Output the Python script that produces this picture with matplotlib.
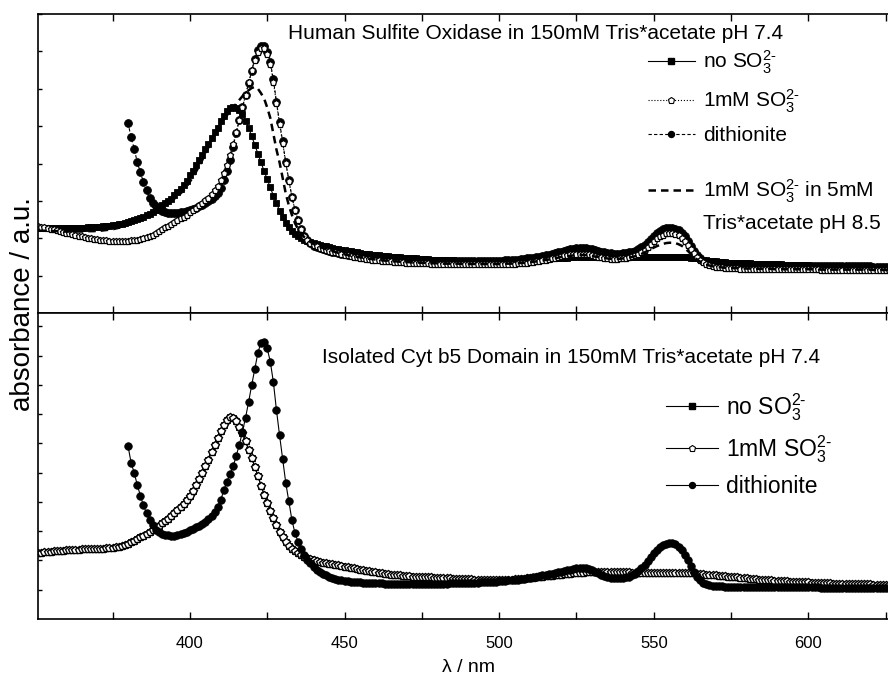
import matplotlib
matplotlib.use("Agg")
import matplotlib.pyplot as plt
from matplotlib.lines import Line2D
import numpy as np

plt.rcParams["font.family"] = ["Liberation Sans", "DejaVu Sans"]
plt.rcParams["mathtext.fontset"] = "custom"
plt.rcParams["mathtext.rm"] = "Liberation Sans"
plt.rcParams["mathtext.it"] = "Liberation Sans:italic"
plt.rcParams["mathtext.bf"] = "Liberation Sans:bold"

# wavelength grids in nm (spectra sampled every 1 nm)
WL = np.arange(351, 629)
WL_DITH = np.arange(380, 629)

# --- Human sulfite oxidase (top panel), absorbance in arbitrary units ---
TOP_NO_SO3 = [
    2.27, 2.27, 2.27, 2.27, 2.27, 2.27, 2.27, 2.27, 2.27, 2.27,
    2.27, 2.27, 2.27, 2.28, 2.28, 2.28, 2.29, 2.29, 2.30, 2.30,
    2.31, 2.32, 2.33, 2.34, 2.35, 2.36, 2.37, 2.39, 2.41, 2.43,
    2.46, 2.49, 2.52, 2.55, 2.58, 2.62, 2.66, 2.71, 2.76, 2.82,
    2.88, 2.94, 3.00, 3.06, 3.15, 3.23, 3.32, 3.42, 3.54, 3.68,
    3.81, 3.96, 4.10, 4.24, 4.38, 4.51, 4.68, 4.84, 4.96, 5.14,
    5.28, 5.40, 5.48, 5.51, 5.49, 5.43, 5.32, 5.15, 4.95, 4.73,
    4.50, 4.26, 4.03, 3.80, 3.58, 3.36, 3.14, 2.94, 2.74, 2.57,
    2.42, 2.30, 2.20, 2.12, 2.06, 2.01, 1.96, 1.92, 1.89, 1.86,
    1.84, 1.82, 1.80, 1.78, 1.76, 1.74, 1.72, 1.71, 1.69, 1.68,
    1.66, 1.65, 1.63, 1.62, 1.61, 1.59, 1.58, 1.57, 1.56, 1.55,
    1.54, 1.53, 1.52, 1.52, 1.51, 1.50, 1.49, 1.49, 1.48, 1.47,
    1.47, 1.46, 1.46, 1.45, 1.45, 1.44, 1.44, 1.43, 1.43, 1.42,
    1.42, 1.42, 1.41, 1.41, 1.41, 1.40, 1.40, 1.40, 1.40, 1.39,
    1.39, 1.39, 1.39, 1.39, 1.38, 1.38, 1.38, 1.38, 1.38, 1.38,
    1.38, 1.38, 1.39, 1.39, 1.39, 1.40, 1.40, 1.41, 1.41, 1.42,
    1.42, 1.43, 1.43, 1.44, 1.45, 1.45, 1.46, 1.46, 1.47, 1.47,
    1.48, 1.48, 1.49, 1.49, 1.50, 1.50, 1.50, 1.50, 1.50, 1.50,
    1.50, 1.50, 1.49, 1.49, 1.49, 1.49, 1.49, 1.49, 1.49, 1.49,
    1.49, 1.49, 1.50, 1.50, 1.50, 1.50, 1.50, 1.50, 1.50, 1.50,
    1.50, 1.51, 1.51, 1.51, 1.51, 1.51, 1.51, 1.50, 1.50, 1.50,
    1.49, 1.48, 1.47, 1.46, 1.44, 1.43, 1.41, 1.40, 1.39, 1.38,
    1.37, 1.36, 1.36, 1.35, 1.35, 1.34, 1.34, 1.34, 1.33, 1.33,
    1.33, 1.32, 1.32, 1.32, 1.31, 1.31, 1.31, 1.30, 1.30, 1.30,
    1.30, 1.29, 1.29, 1.29, 1.29, 1.28, 1.28, 1.28, 1.28, 1.28,
    1.27, 1.27, 1.27, 1.27, 1.27, 1.26, 1.26, 1.26, 1.26, 1.26,
    1.26, 1.25, 1.25, 1.25, 1.25, 1.25, 1.25, 1.24, 1.24, 1.24,
    1.24, 1.24, 1.24, 1.23, 1.23, 1.23, 1.23, 1.23,
]

TOP_SO3_1MM = [
    2.32, 2.31, 2.30, 2.28, 2.26, 2.24, 2.22, 2.20, 2.17, 2.15,
    2.13, 2.11, 2.09, 2.07, 2.05, 2.03, 2.01, 2.00, 1.98, 1.97,
    1.96, 1.95, 1.94, 1.93, 1.92, 1.92, 1.92, 1.92, 1.92, 1.93,
    1.94, 1.95, 1.96, 1.98, 2.00, 2.03, 2.06, 2.10, 2.14, 2.19,
    2.24, 2.29, 2.34, 2.39, 2.43, 2.48, 2.53, 2.58, 2.63, 2.69,
    2.75, 2.81, 2.88, 2.95, 3.02, 3.09, 3.18, 3.28, 3.40, 3.56,
    3.75, 3.97, 4.23, 4.52, 4.84, 5.17, 5.50, 5.83, 6.17, 6.49,
    6.78, 6.99, 7.09, 7.08, 6.94, 6.67, 6.19, 5.61, 5.06, 4.55,
    4.01, 3.54, 3.10, 2.75, 2.48, 2.25, 2.07, 1.96, 1.88, 1.82,
    1.78, 1.75, 1.72, 1.69, 1.66, 1.64, 1.62, 1.60, 1.58, 1.56,
    1.54, 1.52, 1.51, 1.49, 1.48, 1.47, 1.45, 1.44, 1.43, 1.42,
    1.41, 1.40, 1.39, 1.39, 1.38, 1.37, 1.37, 1.36, 1.36, 1.35,
    1.35, 1.34, 1.34, 1.34, 1.33, 1.33, 1.33, 1.32, 1.32, 1.32,
    1.32, 1.31, 1.31, 1.31, 1.31, 1.31, 1.31, 1.30, 1.30, 1.30,
    1.30, 1.30, 1.30, 1.30, 1.30, 1.30, 1.31, 1.31, 1.31, 1.31,
    1.31, 1.31, 1.32, 1.32, 1.32, 1.33, 1.33, 1.34, 1.35, 1.36,
    1.37, 1.38, 1.40, 1.41, 1.43, 1.44, 1.46, 1.48, 1.50, 1.52,
    1.54, 1.56, 1.57, 1.58, 1.59, 1.59, 1.59, 1.58, 1.57, 1.55,
    1.53, 1.51, 1.49, 1.47, 1.46, 1.45, 1.45, 1.45, 1.46, 1.47,
    1.48, 1.50, 1.52, 1.55, 1.59, 1.63, 1.69, 1.76, 1.84, 1.92,
    2.00, 2.06, 2.10, 2.13, 2.14, 2.14, 2.12, 2.08, 2.01, 1.92,
    1.82, 1.71, 1.60, 1.50, 1.42, 1.36, 1.31, 1.28, 1.26, 1.24,
    1.23, 1.22, 1.21, 1.21, 1.20, 1.20, 1.20, 1.19, 1.19, 1.19,
    1.19, 1.19, 1.18, 1.18, 1.18, 1.18, 1.18, 1.18, 1.17, 1.17,
    1.17, 1.17, 1.17, 1.17, 1.17, 1.17, 1.17, 1.17, 1.17, 1.17,
    1.17, 1.17, 1.17, 1.16, 1.16, 1.16, 1.16, 1.16, 1.16, 1.16,
    1.16, 1.16, 1.16, 1.16, 1.16, 1.16, 1.16, 1.16, 1.16, 1.16,
    1.15, 1.15, 1.15, 1.15, 1.15, 1.15, 1.15, 1.15,
]

TOP_DITHIONITE = [
    5.09,
    4.70, 4.40, 4.03, 3.76, 3.50, 3.28, 3.08, 2.95, 2.85, 2.78,
    2.73, 2.70, 2.68, 2.67, 2.67, 2.68, 2.69, 2.71, 2.73, 2.76,
    2.79, 2.82, 2.86, 2.90, 2.95, 2.99, 3.05, 3.13, 3.22, 3.35,
    3.55, 3.80, 4.10, 4.45, 4.82, 5.17, 5.50, 5.82, 6.15, 6.48,
    6.80, 7.03, 7.14, 7.15, 6.98, 6.72, 6.25, 5.65, 5.10, 4.59,
    4.03, 3.56, 3.11, 2.75, 2.49, 2.25, 2.06, 1.94, 1.86, 1.80,
    1.76, 1.73, 1.70, 1.68, 1.66, 1.64, 1.62, 1.60, 1.59, 1.57,
    1.56, 1.55, 1.53, 1.52, 1.51, 1.50, 1.49, 1.48, 1.47, 1.47,
    1.46, 1.45, 1.45, 1.44, 1.44, 1.43, 1.43, 1.43, 1.42, 1.42,
    1.42, 1.41, 1.41, 1.41, 1.41, 1.40, 1.40, 1.40, 1.40, 1.40,
    1.40, 1.39, 1.39, 1.39, 1.39, 1.39, 1.39, 1.39, 1.39, 1.39,
    1.39, 1.39, 1.39, 1.39, 1.39, 1.39, 1.39, 1.40, 1.40, 1.40,
    1.40, 1.41, 1.41, 1.42, 1.42, 1.43, 1.44, 1.45, 1.46, 1.47,
    1.48, 1.49, 1.51, 1.52, 1.54, 1.56, 1.58, 1.60, 1.62, 1.64,
    1.66, 1.68, 1.70, 1.72, 1.73, 1.74, 1.74, 1.73, 1.72, 1.70,
    1.68, 1.66, 1.64, 1.62, 1.61, 1.60, 1.59, 1.59, 1.59, 1.60,
    1.61, 1.62, 1.64, 1.67, 1.71, 1.76, 1.83, 1.91, 1.99, 2.07,
    2.14, 2.20, 2.24, 2.27, 2.28, 2.28, 2.26, 2.22, 2.15, 2.05,
    1.93, 1.80, 1.67, 1.56, 1.47, 1.40, 1.36, 1.33, 1.31, 1.30,
    1.30, 1.29, 1.29, 1.29, 1.28, 1.28, 1.28, 1.28, 1.28, 1.28,
    1.27, 1.27, 1.27, 1.27, 1.27, 1.27, 1.27, 1.27, 1.26, 1.26,
    1.26, 1.26, 1.26, 1.26, 1.26, 1.26, 1.26, 1.26, 1.26, 1.26,
    1.26, 1.26, 1.25, 1.25, 1.25, 1.25, 1.25, 1.25, 1.25, 1.25,
    1.25, 1.25, 1.25, 1.25, 1.25, 1.25, 1.25, 1.25, 1.25, 1.25,
    1.24, 1.24, 1.24, 1.24, 1.24, 1.24, 1.24, 1.24,
]

# 1mM sulfite in 5mM Tris*acetate pH 8.5 (no markers, thick dashes)
TOP_PH85 = [
    2.20, 2.20, 2.20, 2.19, 2.19, 2.19, 2.19, 2.18, 2.18, 2.18,
    2.18, 2.18, 2.18, 2.18, 2.18, 2.18, 2.19, 2.19, 2.19, 2.20,
    2.20, 2.21, 2.22, 2.23, 2.24, 2.26, 2.28, 2.30, 2.33, 2.36,
    2.40, 2.44, 2.48, 2.52, 2.56, 2.60, 2.64, 2.68, 2.73, 2.78,
    2.83, 2.88, 2.94, 3.00, 3.06, 3.13, 3.20, 3.28, 3.39, 3.51,
    3.64, 3.78, 3.93, 4.09, 4.26, 4.43, 4.60, 4.76, 4.91, 5.05,
    5.18, 5.29, 5.40, 5.50, 5.60, 5.70, 5.80, 5.89, 5.96, 6.02,
    6.05, 6.00, 5.88, 5.74, 5.50, 5.22, 4.80, 4.37, 4.03, 3.62,
    3.20, 2.88, 2.62, 2.40, 2.24, 2.12, 2.03, 1.96, 1.90, 1.85,
    1.80, 1.77, 1.74, 1.71, 1.68, 1.66, 1.63, 1.61, 1.59, 1.57,
    1.55, 1.53, 1.52, 1.50, 1.49, 1.48, 1.46, 1.45, 1.44, 1.43,
    1.42, 1.41, 1.40, 1.40, 1.39, 1.38, 1.38, 1.37, 1.37, 1.36,
    1.36, 1.35, 1.35, 1.35, 1.34, 1.34, 1.34, 1.33, 1.33, 1.33,
    1.33, 1.32, 1.32, 1.32, 1.32, 1.32, 1.32, 1.31, 1.31, 1.31,
    1.31, 1.31, 1.31, 1.31, 1.31, 1.31, 1.31, 1.31, 1.31, 1.31,
    1.31, 1.32, 1.32, 1.32, 1.33, 1.33, 1.34, 1.34, 1.35, 1.36,
    1.37, 1.38, 1.39, 1.40, 1.42, 1.43, 1.45, 1.46, 1.48, 1.50,
    1.51, 1.52, 1.53, 1.54, 1.55, 1.55, 1.55, 1.55, 1.54, 1.53,
    1.51, 1.50, 1.48, 1.47, 1.46, 1.45, 1.45, 1.45, 1.45, 1.46,
    1.47, 1.48, 1.50, 1.52, 1.55, 1.58, 1.62, 1.66, 1.71, 1.75,
    1.79, 1.82, 1.85, 1.87, 1.88, 1.88, 1.87, 1.84, 1.80, 1.74,
    1.66, 1.58, 1.50, 1.43, 1.37, 1.33, 1.29, 1.27, 1.25, 1.24,
    1.23, 1.22, 1.21, 1.21, 1.20, 1.20, 1.20, 1.19, 1.19, 1.19,
    1.19, 1.19, 1.18, 1.18, 1.18, 1.18, 1.18, 1.18, 1.17, 1.17,
    1.17, 1.17, 1.17, 1.17, 1.17, 1.17, 1.17, 1.17, 1.17, 1.17,
    1.17, 1.17, 1.17, 1.16, 1.16, 1.16, 1.16, 1.16, 1.16, 1.16,
    1.16, 1.16, 1.16, 1.16, 1.16, 1.16, 1.16, 1.16, 1.16, 1.16,
    1.15, 1.15, 1.15, 1.15, 1.15, 1.15, 1.15, 1.15,
]

# --- isolated cyt b5 domain (bottom panel) ---
BOT_SO3_1MM = [
    2.26, 2.27, 2.28, 2.29, 2.30, 2.31, 2.32, 2.33, 2.34, 2.35,
    2.36, 2.36, 2.37, 2.37, 2.38, 2.38, 2.38, 2.39, 2.39, 2.39,
    2.40, 2.40, 2.41, 2.42, 2.43, 2.45, 2.47, 2.50, 2.54, 2.58,
    2.63, 2.68, 2.73, 2.79, 2.85, 2.91, 2.98, 3.05, 3.12, 3.19,
    3.27, 3.35, 3.43, 3.52, 3.61, 3.71, 3.82, 3.94, 4.07, 4.21,
    4.38, 4.57, 4.78, 5.00, 5.22, 5.45, 5.70, 5.95, 6.20, 6.43,
    6.63, 6.80, 6.90, 6.88, 6.76, 6.55, 6.35, 6.08, 5.78, 5.50,
    5.20, 4.88, 4.55, 4.25, 3.97, 3.70, 3.45, 3.20, 2.98, 2.80,
    2.64, 2.50, 2.40, 2.31, 2.24, 2.18, 2.12, 2.08, 2.04, 2.01,
    1.98, 1.95, 1.93, 1.91, 1.89, 1.87, 1.85, 1.83, 1.81, 1.79,
    1.77, 1.75, 1.73, 1.71, 1.69, 1.67, 1.65, 1.63, 1.61, 1.59,
    1.58, 1.56, 1.55, 1.53, 1.52, 1.51, 1.50, 1.49, 1.48, 1.47,
    1.46, 1.45, 1.45, 1.44, 1.43, 1.43, 1.42, 1.42, 1.41, 1.41,
    1.40, 1.40, 1.39, 1.39, 1.38, 1.38, 1.37, 1.37, 1.36, 1.36,
    1.36, 1.35, 1.35, 1.35, 1.34, 1.34, 1.34, 1.34, 1.34, 1.34,
    1.34, 1.34, 1.35, 1.35, 1.36, 1.36, 1.37, 1.38, 1.39, 1.40,
    1.41, 1.42, 1.43, 1.44, 1.46, 1.47, 1.48, 1.50, 1.51, 1.52,
    1.53, 1.54, 1.55, 1.56, 1.57, 1.58, 1.58, 1.59, 1.59, 1.59,
    1.59, 1.59, 1.59, 1.59, 1.59, 1.59, 1.59, 1.59, 1.59, 1.59,
    1.59, 1.59, 1.58, 1.58, 1.58, 1.58, 1.58, 1.58, 1.58, 1.58,
    1.58, 1.58, 1.58, 1.58, 1.58, 1.58, 1.58, 1.58, 1.57, 1.57,
    1.57, 1.56, 1.56, 1.55, 1.54, 1.53, 1.52, 1.51, 1.50, 1.49,
    1.48, 1.47, 1.46, 1.45, 1.44, 1.43, 1.42, 1.41, 1.40, 1.39,
    1.38, 1.37, 1.36, 1.35, 1.35, 1.34, 1.33, 1.32, 1.31, 1.31,
    1.30, 1.29, 1.29, 1.28, 1.27, 1.27, 1.26, 1.26, 1.25, 1.25,
    1.24, 1.24, 1.23, 1.23, 1.22, 1.22, 1.22, 1.21, 1.21, 1.21,
    1.20, 1.20, 1.20, 1.19, 1.19, 1.19, 1.18, 1.18, 1.18, 1.18,
    1.17, 1.17, 1.17, 1.16, 1.16, 1.16, 1.16, 1.16,
]

# the "no sulfite" spectrum of the isolated domain lies under the 1mM one
BOT_NO_SO3 = BOT_SO3_1MM

BOT_DITHIONITE = [
    5.92,
    5.34, 5.00, 4.58, 4.22, 3.88, 3.62, 3.38, 3.20, 3.04, 2.96,
    2.91, 2.88, 2.86, 2.84, 2.85, 2.87, 2.90, 2.94, 2.99, 3.04,
    3.08, 3.13, 3.19, 3.25, 3.33, 3.42, 3.53, 3.66, 3.84, 4.08,
    4.40, 4.70, 4.95, 5.22, 5.58, 5.96, 6.40, 6.88, 7.42, 8.00,
    8.55, 9.10, 9.45, 9.48, 9.25, 8.80, 8.10, 7.14, 6.28, 5.46,
    4.66, 4.03, 3.38, 2.93, 2.64, 2.39, 2.20, 2.03, 1.90, 1.78,
    1.68, 1.60, 1.54, 1.49, 1.45, 1.41, 1.38, 1.35, 1.33, 1.31,
    1.29, 1.28, 1.27, 1.26, 1.25, 1.24, 1.24, 1.23, 1.23, 1.22,
    1.22, 1.22, 1.21, 1.21, 1.21, 1.21, 1.21, 1.21, 1.21, 1.21,
    1.21, 1.21, 1.21, 1.21, 1.21, 1.21, 1.21, 1.21, 1.21, 1.21,
    1.21, 1.21, 1.21, 1.22, 1.22, 1.22, 1.22, 1.22, 1.23, 1.23,
    1.23, 1.24, 1.24, 1.25, 1.25, 1.26, 1.27, 1.27, 1.28, 1.29,
    1.30, 1.31, 1.32, 1.33, 1.34, 1.35, 1.37, 1.38, 1.40, 1.41,
    1.43, 1.45, 1.47, 1.49, 1.51, 1.53, 1.55, 1.58, 1.60, 1.62,
    1.64, 1.67, 1.69, 1.71, 1.73, 1.74, 1.74, 1.73, 1.70, 1.66,
    1.61, 1.56, 1.51, 1.47, 1.44, 1.41, 1.40, 1.39, 1.39, 1.40,
    1.42, 1.45, 1.49, 1.55, 1.63, 1.73, 1.85, 1.98, 2.12, 2.25,
    2.37, 2.47, 2.54, 2.58, 2.60, 2.59, 2.55, 2.47, 2.35, 2.19,
    2.00, 1.80, 1.60, 1.44, 1.32, 1.24, 1.19, 1.16, 1.14, 1.13,
    1.12, 1.12, 1.11, 1.11, 1.11, 1.10, 1.10, 1.10, 1.10, 1.10,
    1.10, 1.10, 1.09, 1.09, 1.09, 1.09, 1.09, 1.09, 1.09, 1.09,
    1.08, 1.08, 1.08, 1.08, 1.08, 1.08, 1.08, 1.08, 1.08, 1.08,
    1.08, 1.08, 1.08, 1.07, 1.07, 1.07, 1.07, 1.07, 1.07, 1.07,
    1.07, 1.07, 1.07, 1.06, 1.06, 1.06, 1.06, 1.06, 1.06, 1.06,
    1.06, 1.06, 1.05, 1.05, 1.05, 1.05, 1.05, 1.05,
]

X_MAJOR = [400, 450, 500, 550, 600]
X_MINOR = [375, 425, 475, 525, 575, 625]
XLIM = (351, 629)
TOP_YLIM = (0, 8)
BOT_YLIM = (0, 10.46)

TOP_TITLE = "Human Sulfite Oxidase in 150mM Tris*acetate pH 7.4"
BOT_TITLE = "Isolated Cyt b5 Domain in 150mM Tris*acetate pH 7.4"
# hyphen instead of the mathtext minus, as in the original labels
SO3 = "SO$_{3}^{2\u2010}$"
LABELS = ["no " + SO3, "1mM " + SO3, "dithionite"]


def style_axes(ax, ylim, show_xlabels):
    ax.set_xlim(*XLIM)
    ax.set_ylim(*ylim)
    ax.set_xticks(X_MAJOR)
    ax.set_xticks(X_MINOR, minor=True)
    ax.set_yticks(np.arange(1, int(ylim[1]) + 1))
    ax.tick_params(axis="x", which="both", direction="in", top=True, bottom=True,
                   length=5, width=1, labelsize=12, pad=12, labelbottom=show_xlabels)
    ax.tick_params(axis="y", which="both", direction="in", left=True, right=False,
                   length=3, width=1, labelleft=False)
    for sp in ax.spines.values():
        sp.set_linewidth(1.2)


fig = plt.figure(figsize=(8.88, 6.84), dpi=100)
left = 38.3 / 888
width = (XLIM[1] - XLIM[0]) * 3.093 / 888
ax_top = fig.add_axes([left, (684 - 313) / 684, width, 299 / 684])
ax_bot = fig.add_axes([left, (684 - 619) / 684, width, 306 / 684])

style_axes(ax_top, TOP_YLIM, False)
style_axes(ax_bot, BOT_YLIM, True)

# top panel: dithionite circles are a bit bigger than the open pentagons drawn over them
ax_top.plot(WL, TOP_NO_SO3, color="black", lw=0.8, ls="-",
            marker="s", ms=4.3, mfc="black", mec="black", mew=0.6)
ax_top.plot(WL_DITH, TOP_DITHIONITE, color="black", lw=0.8, ls=(0, (3, 2)),
            marker="o", ms=5.6, mfc="black", mec="black", mew=0.6)
ax_top.plot(WL, TOP_SO3_1MM, color="black", lw=0.8, ls=":",
            marker="p", ms=4.7, mfc="white", mec="black", mew=0.9)
ax_top.plot(WL, TOP_PH85, color="black", lw=1.8, ls=(0, (3, 2)))

ax_top.text(0.578, 0.935, TOP_TITLE, transform=ax_top.transAxes,
            ha="center", va="center", fontsize=15)

top_handles = [
    Line2D([], [], color="black", lw=0.8, ls="-", marker="s", ms=4, mfc="black"),
    Line2D([], [], color="black", lw=0.8, ls=":", marker="p", ms=4.5, mfc="white", mew=0.8),
    Line2D([], [], color="black", lw=0.8, ls=(0, (3, 2)), marker="o", ms=4.3, mfc="black"),
]
leg1 = ax_top.legend(top_handles, LABELS, loc="upper left", bbox_to_anchor=(0.709, 0.885),
                     frameon=False, fontsize=15, handlelength=2.26, handletextpad=0.37,
                     borderpad=0, borderaxespad=0, labelspacing=0.55)
ax_top.add_artist(leg1)
ax_top.legend([Line2D([], [], color="black", lw=1.8, ls=(0, (3, 2)))],
              ["1mM " + SO3 + " in 5mM"], loc="upper left", bbox_to_anchor=(0.709, 0.452),
              frameon=False, fontsize=15, handlelength=2.26, handletextpad=0.37,
              borderpad=0, borderaxespad=0)
ax_top.text(0.773, 0.301, "Tris*acetate pH 8.5", transform=ax_top.transAxes,
            ha="left", va="center", fontsize=15)

# bottom panel
ax_bot.plot(WL, BOT_NO_SO3, color="black", lw=0.8, ls="-",
            marker="s", ms=4.4, mfc="black", mec="black", mew=0.6)
ax_bot.plot(WL, BOT_SO3_1MM, color="black", lw=0.8, ls="-",
            marker="p", ms=5.5, mfc="white", mec="black", mew=1.0)
ax_bot.plot(WL_DITH, BOT_DITHIONITE, color="black", lw=0.8, ls="-",
            marker="o", ms=5.4, mfc="black", mec="black", mew=0.6)

ax_bot.text(0.620, 0.855, BOT_TITLE, transform=ax_bot.transAxes,
            ha="center", va="center", fontsize=15)

bot_handles = [
    Line2D([], [], color="black", lw=0.8, ls="-", marker="s", ms=4, mfc="black"),
    Line2D([], [], color="black", lw=0.8, ls="-", marker="p", ms=4.5, mfc="white", mew=0.8),
    Line2D([], [], color="black", lw=0.8, ls="-", marker="o", ms=4.3, mfc="black"),
]
ax_bot.legend(bot_handles, LABELS, loc="upper left", bbox_to_anchor=(0.730, 0.745),
              frameon=False, fontsize=16.5, handlelength=2.26, handletextpad=0.35,
              borderpad=0, borderaxespad=0, labelspacing=0.45)

fig.text(0.026, 0.556, "absorbance / a.u.", rotation=90, fontsize=20,
         ha="center", va="center")
fig.text(0.528, 0.024, "\u03bb / nm", fontsize=14, ha="center", va="center")

fig.savefig("out.png", dpi=100)
